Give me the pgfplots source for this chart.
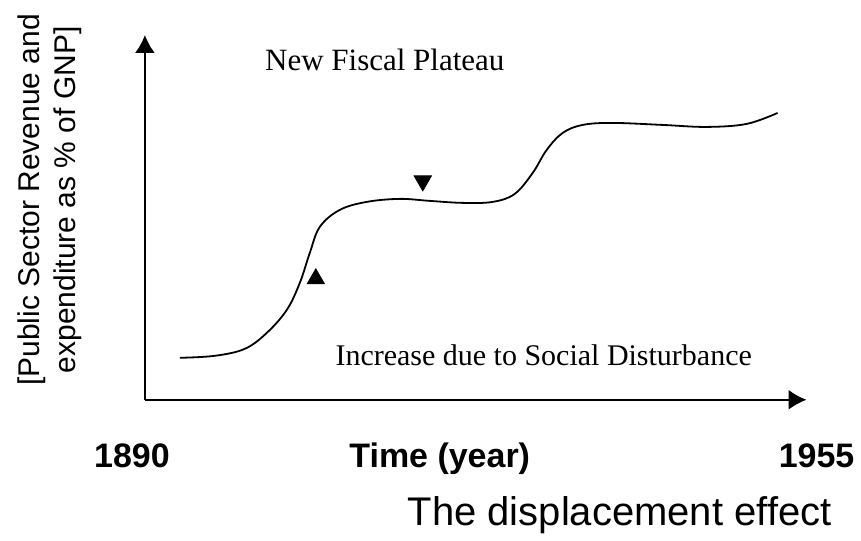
\documentclass[border=0pt]{standalone}
\usepackage{pgfplots}
\pgfplotsset{compat=1.18}
\usetikzlibrary{arrows.meta}
\usepackage{fontspec}
\setmainfont{Liberation Serif}
\newfontfamily\arial{Liberation Sans}
\begin{document}
\begin{tikzpicture}
\begin{axis}[
  scale only axis,
  width=331pt, height=182.5pt,
  xmin=145, xmax=807, ymin=136, ymax=501,
  axis lines=left,
  axis line style={line width=1pt, -{Latex[length=9pt,width=10pt]}},
  xtick=\empty, ytick=\empty,
  clip=false,
  enlargelimits=false,
]
\path (axis cs:0,0) rectangle (axis cs:861,536);
\addplot[black, line width=0.9pt, smooth, tension=0.6] coordinates {
(180,178) (215,180) (245,187) (267,203) (287,226) (300,253) (310,283) (320,309)
(340,326) (367,334) (400,337) (430,335) (463,333) (493,334) (515,342)
(533,363) (547,386) (563,403) (583,411) (613,413) (663,411) (707,409)
(747,412) (778,423)
};
\addplot[only marks, mark=triangle*, mark size=5pt, black] coordinates {(316,257)};
\addplot[only marks, mark=triangle*, mark size=5pt, black, mark options={rotate=180}] coordinates {(423,355)};
\node[font=\fontsize{15.5pt}{18pt}\selectfont] at (axis cs:385,476) {New Fiscal Plateau};
\node[font=\fontsize{15pt}{18pt}\selectfont] at (axis cs:544,181) {Increase due to Social Disturbance};
\node[font=\arial\fontsize{15pt}{18pt}\selectfont, rotate=90, align=center] at (axis cs:50,336) {[Public Sector Revenue and\\expenditure as \% of GNP]};
\node[font=\arial\bfseries\fontsize{17pt}{20pt}\selectfont, anchor=base] at (axis cs:132,68) {1890};
\node[font=\arial\bfseries\fontsize{17pt}{20pt}\selectfont, anchor=base] at (axis cs:440,68) {Time (year)};
\node[font=\arial\bfseries\fontsize{17pt}{20pt}\selectfont, anchor=base] at (axis cs:817,68) {1955};
\node[font=\arial\fontsize{20pt}{24pt}\selectfont, anchor=base] at (axis cs:620,10) {The displacement effect};
\end{axis}
\end{tikzpicture}
\end{document}
